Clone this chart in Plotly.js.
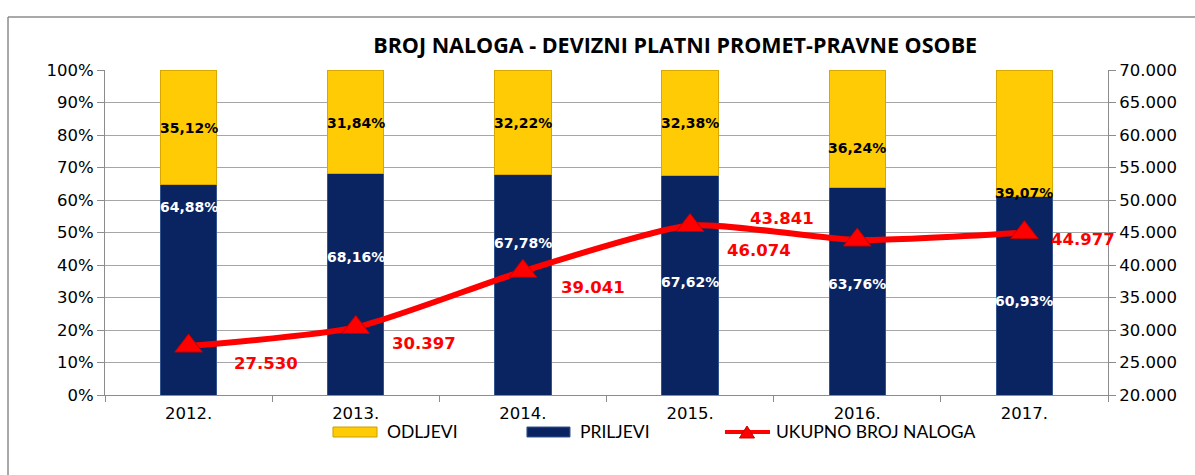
<!DOCTYPE html>
<html>
<head>
<meta charset="utf-8">
<script src="https://cdn.plot.ly/plotly-3.0.1.min.js"></script>
<style>html,body{margin:0;padding:0;background:#fff;}#chart{width:1195px;height:475px;}</style>
</head>
<body>
<div id="chart"></div>
<script>
// ---- data ----
const years = ['2012.', '2013.', '2014.', '2015.', '2016.', '2017.'];
const priljevi = [64.88, 68.16, 67.78, 67.62, 63.76, 60.93];
const odljevi = [35.12, 31.84, 32.22, 32.38, 36.24, 39.07];
const ukupno = [27530, 30397, 39041, 46074, 43841, 44977];
const seriesNames = ['ODLJEVI', 'PRILJEVI', 'UKUPNO BROJ NALOGA'];

// ---- label placement (layout only) ----
const priljeviLabelY = [0.578, 0.425, 0.468, 0.348, 0.342, 0.289];
const odljeviLabelY = [0.822, 0.837, 0.837, 0.837, 0.760, 0.622];
const ukupnoShiftX = [77, 68, 70, 69, -75, 59];
const ukupnoShiftY = [-17, -16, -16, -25, 22, -7];

const idx = years.map((_, i) => i);
const pct = v => v.toFixed(2).replace('.', ',') + '%';
const thou = v => String(v).replace(/\B(?=(\d{3})+(?!\d))/g, '.');

const NAVY = '#0A2462', YELLOW = '#FFCB05', RED = '#FF0000';

const traces = [
  {
    type: 'bar', name: seriesNames[1], x: idx, y: priljevi.map(v => v / 100),
    marker: {color: NAVY, line: {color: '#34548F', width: 1}},
    width: 0.337, hoverinfo: 'skip'
  },
  {
    type: 'bar', name: seriesNames[0], x: idx, y: odljevi.map(v => v / 100),
    marker: {color: YELLOW, line: {color: '#D9A800', width: 1}},
    width: 0.337, hoverinfo: 'skip'
  },
  {
    type: 'scatter', mode: 'lines+markers', name: seriesNames[2],
    x: idx, y: ukupno, yaxis: 'y2',
    line: {color: RED, width: 6, shape: 'spline', smoothing: 0.6},
    marker: {symbol: 'triangle-up', size: 24, color: RED, line: {color: '#C00000', width: 1}},
    hoverinfo: 'skip'
  }
];

const annotations = [];
idx.forEach(i => {
  annotations.push({x: i, y: priljeviLabelY[i], xref: 'x', yref: 'y', text: pct(priljevi[i]),
    showarrow: false, font: {family: 'DejaVu Sans', size: 14, color: '#FFFFFF', weight: 'bold'}});
  annotations.push({x: i, y: odljeviLabelY[i], xref: 'x', yref: 'y', text: pct(odljevi[i]),
    showarrow: false, font: {family: 'DejaVu Sans', size: 14, color: '#000000', weight: 'bold'}});
  annotations.push({x: i, y: ukupno[i], xref: 'x', yref: 'y2', text: thou(ukupno[i]),
    xshift: ukupnoShiftX[i], yshift: ukupnoShiftY[i],
    showarrow: false, font: {family: 'DejaVu Sans', size: 16.5, color: RED, weight: 'bold'}});
});

// custom legend (paper coordinates)
const legFont = {family: 'Lato', size: 17.5, color: '#000'};
const legY = -0.1138;
annotations.push({xref: 'paper', yref: 'paper', x: 0.2792, y: legY, xanchor: 'left', yanchor: 'middle', text: seriesNames[0], showarrow: false, font: legFont});
annotations.push({xref: 'paper', yref: 'paper', x: 0.4716, y: legY, xanchor: 'left', yanchor: 'middle', text: seriesNames[1], showarrow: false, font: legFont});
annotations.push({xref: 'paper', yref: 'paper', x: 0.6670, y: legY, xanchor: 'left', yanchor: 'middle', text: seriesNames[2], showarrow: false, font: legFont});

const layout = {
  width: 1195, height: 475,
  margin: {l: 105, r: 87, t: 70, b: 80},
  paper_bgcolor: '#FFFFFF', plot_bgcolor: '#FFFFFF',
  separators: ',.',
  barmode: 'stack',
  showlegend: false,
  title: {
    text: 'BROJ NALOGA - DEVIZNI PLATNI PROMET-PRAVNE OSOBE',
    font: {family: 'Open Sans', size: 21.5, color: '#000', weight: 'bold'},
    xref: 'container', x: 0.565, xanchor: 'center',
    yref: 'container', y: 0.905, yanchor: 'middle'
  },
  xaxis: {
    range: [-0.5, 5.5], tickvals: idx, ticktext: years,
    showgrid: false, showline: true, linecolor: '#8C8C8C', linewidth: 1, zeroline: false,
    ticks: '', tickfont: {family: 'DejaVu Sans', size: 16.5, color: '#000'},
    ticklabelstandoff: 3,
    minor: {tick0: 0.5, dtick: 1, ticks: 'outside', ticklen: 6, tickcolor: '#8C8C8C', showgrid: false}
  },
  yaxis: {
    range: [0, 1], dtick: 0.1, tickformat: '.0%',
    showgrid: true, gridcolor: '#A6A6A6', gridwidth: 1,
    showline: true, linecolor: '#8C8C8C', ticks: 'outside', ticklen: 7, tickcolor: '#8C8C8C',
    tickfont: {family: 'DejaVu Sans', size: 16.5, color: '#000'}, zeroline: false
  },
  yaxis2: {
    overlaying: 'y', side: 'right', range: [20000, 70000], dtick: 5000, tickformat: ',d',
    showgrid: false, showline: true, linecolor: '#8C8C8C', ticks: 'outside', ticklen: 7, tickcolor: '#8C8C8C',
    tickfont: {family: 'DejaVu Sans', size: 16.5, color: '#000'}, zeroline: false
  },
  annotations: annotations,
  shapes: [
    // outer chart border
    {type: 'line', xref: 'paper', yref: 'paper', x0: -0.0967, x1: -0.0967, y0: 1.163, y1: -0.25,
      line: {color: '#8C8C8C', width: 1.5}},
    {type: 'line', xref: 'paper', yref: 'paper', x0: -0.0967, x1: 1.1, y0: 1.163, y1: 1.163,
      line: {color: '#8C8C8C', width: 1.5}},
    // legend swatches
    {type: 'rect', xref: 'paper', yref: 'paper', x0: 0.2273, x1: 0.2712, y0: -0.1292, y1: -0.0985,
      fillcolor: YELLOW, line: {color: '#C9A000', width: 1}},
    {type: 'rect', xref: 'paper', yref: 'paper', x0: 0.4207, x1: 0.4636, y0: -0.1292, y1: -0.0985,
      fillcolor: NAVY, line: {color: '#34548F', width: 1}},
    {type: 'line', xref: 'paper', yref: 'paper', x0: 0.6181, x1: 0.6630, y0: legY, y1: legY,
      line: {color: RED, width: 4}},
    {type: 'path', xref: 'paper', yref: 'paper',
      path: 'M 0.6326 -0.1323 L 0.6476 -0.1323 L 0.6401 -0.0954 Z',
      fillcolor: RED, line: {color: '#C00000', width: 1}}
  ]
};

Plotly.newPlot('chart', traces, layout, {displayModeBar: false, staticPlot: true});
</script>
</body>
</html>
